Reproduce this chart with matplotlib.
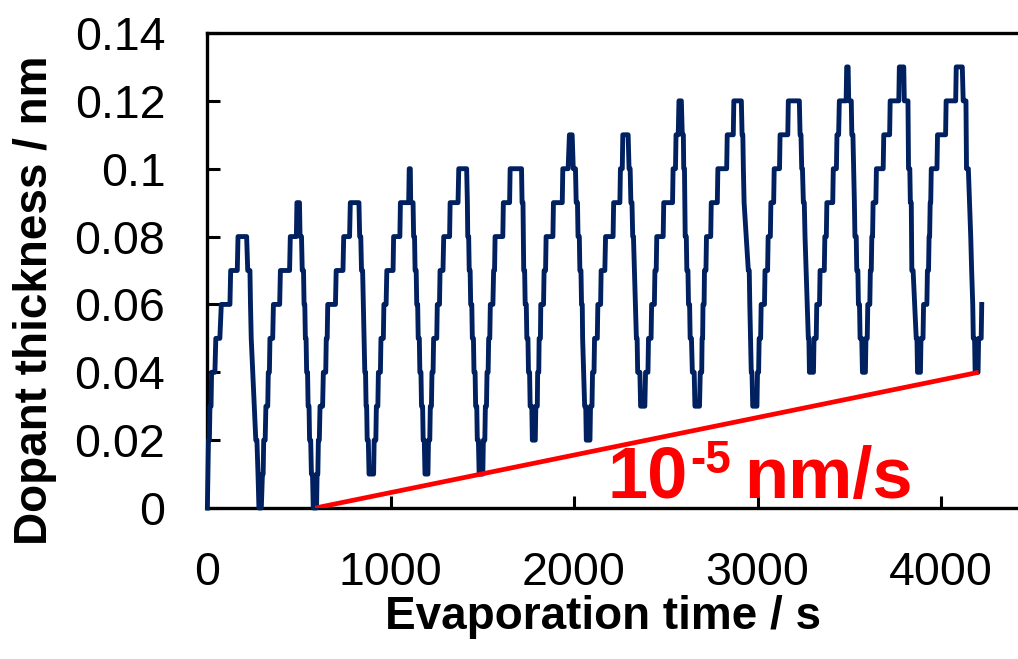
import matplotlib
matplotlib.use("Agg")
import matplotlib.pyplot as plt

plt.rcParams['font.family'] = ['Liberation Sans', 'DejaVu Sans']

# dopant thickness trace (s, nm)
time_s = [
    2, 8, 13, 16, 22, 25, 43, 48, 70, 78, 125, 129, 165, 169, 216, 222, 234, 237, 241, 266, 272, 278, 283, 296, 302, 306, 309,
    317, 321, 331, 334, 340, 343, 358, 362, 396, 400, 450, 454, 487, 490, 504, 507, 515, 519, 526, 529, 533, 536, 540, 543, 548, 551, 556, 559, 565, 569, 575, 579, 597,
    600, 604, 607, 612, 616, 630, 634, 647, 650, 655, 658, 700, 704, 741, 745, 777, 781, 828, 832, 838, 842, 848, 860, 864, 867, 870, 873, 879, 883, 908,
    911, 920, 923, 931, 934, 945, 948, 961, 964, 976, 980, 1014, 1017, 1051, 1054, 1099, 1102, 1108, 1110, 1123, 1126, 1131, 1134, 1140, 1143, 1148, 1151, 1157, 1160, 1166, 1169, 1175, 1178, 1184, 1188, 1204,
    1207, 1214, 1217, 1223, 1226, 1232, 1235, 1252, 1255, 1267, 1270, 1286, 1290, 1322, 1325, 1368, 1372, 1415, 1419, 1421, 1426, 1429, 1434, 1437, 1443, 1446, 1452, 1455, 1461, 1464, 1470, 1473, 1479, 1483, 1503,
    1506, 1514, 1517, 1523, 1526, 1532, 1535, 1541, 1544, 1558, 1562, 1567, 1570, 1612, 1615, 1649, 1652, 1714, 1717, 1722, 1726, 1731, 1734, 1740, 1743, 1749, 1752, 1758, 1761, 1770, 1773, 1789,
    1792, 1800, 1802, 1808, 1810, 1817, 1819, 1834, 1837, 1845, 1848, 1885, 1888, 1936, 1939, 1968, 1975, 1990, 1996, 2008, 2012, 2019, 2022, 2029, 2032, 2038, 2041, 2045, 2047, 2058, 2064, 2067, 2087,
    2090, 2098, 2101, 2109, 2112, 2127, 2130, 2145, 2148, 2168, 2172, 2213, 2216, 2250, 2253, 2263, 2266, 2295, 2300, 2306, 2310, 2316, 2320, 2324, 2340, 2344, 2347, 2359, 2363, 2386,
    2390, 2403, 2406, 2420, 2423, 2438, 2441, 2448, 2451, 2486, 2489, 2537, 2540, 2553, 2556, 2568, 2572, 2585, 2590, 2596, 2598, 2602, 2606, 2612, 2615, 2621, 2624, 2630, 2633, 2640, 2645, 2655, 2659, 2684,
    2688, 2696, 2698, 2701, 2703, 2709, 2711, 2719, 2722, 2745, 2748, 2781, 2784, 2832, 2835, 2868, 2871, 2912, 2916, 2920, 2923, 2927, 2950, 2955, 2958, 2962, 2966, 2970, 2974, 2997,
    3000, 3006, 3009, 3017, 3020, 3038, 3041, 3055, 3058, 3070, 3073, 3088, 3091, 3120, 3123, 3165, 3168, 3228, 3232, 3237, 3241, 3245, 3250, 3255, 3259, 3277, 3280, 3283, 3305,
    3308, 3320, 3323, 3338, 3341, 3364, 3367, 3375, 3378, 3410, 3413, 3430, 3433, 3442, 3446, 3483, 3486, 3494, 3497, 3511, 3514, 3520, 3528, 3531, 3538, 3541, 3547, 3550, 3556, 3559, 3568, 3572, 3588,
    3591, 3598, 3601, 3612, 3615, 3620, 3623, 3627, 3630, 3645, 3648, 3685, 3688, 3720, 3723, 3770, 3773, 3797, 3800, 3820, 3823, 3830, 3833, 3838, 3841, 3848, 3865, 3869, 3872, 3888,
    3891, 3902, 3905, 3923, 3926, 3932, 3935, 3938, 3941, 3944, 3947, 3978, 3981, 4025, 4028, 4080, 4083, 4116, 4121, 4136, 4139, 4149, 4162, 4167, 4173, 4176, 4183, 4186, 4202,
    4205, 4219, 4222,
]
thickness_nm = [
    0.00, 0.02, 0.02, 0.03, 0.03, 0.04, 0.04, 0.05, 0.05, 0.06, 0.06, 0.07, 0.07, 0.08, 0.08, 0.07, 0.07, 0.06, 0.05, 0.02, 0.02, 0.01, 0.00, 0.00, 0.01, 0.01, 0.02,
    0.02, 0.03, 0.03, 0.04, 0.04, 0.05, 0.05, 0.06, 0.06, 0.07, 0.07, 0.08, 0.08, 0.09, 0.09, 0.08, 0.08, 0.07, 0.07, 0.06, 0.06, 0.05, 0.05, 0.04, 0.04, 0.03, 0.03, 0.02, 0.02, 0.01, 0.01, 0.00, 0.00,
    0.01, 0.01, 0.02, 0.02, 0.03, 0.03, 0.04, 0.04, 0.05, 0.05, 0.06, 0.06, 0.07, 0.07, 0.08, 0.08, 0.09, 0.09, 0.08, 0.08, 0.07, 0.07, 0.04, 0.04, 0.03, 0.03, 0.02, 0.02, 0.01, 0.01,
    0.02, 0.02, 0.03, 0.03, 0.04, 0.04, 0.05, 0.05, 0.06, 0.06, 0.07, 0.07, 0.08, 0.08, 0.09, 0.09, 0.10, 0.10, 0.09, 0.09, 0.08, 0.08, 0.07, 0.07, 0.06, 0.06, 0.05, 0.05, 0.04, 0.04, 0.03, 0.03, 0.02, 0.02, 0.01, 0.01,
    0.02, 0.02, 0.03, 0.03, 0.04, 0.04, 0.05, 0.05, 0.06, 0.06, 0.07, 0.07, 0.08, 0.08, 0.09, 0.09, 0.10, 0.10, 0.09, 0.08, 0.08, 0.07, 0.07, 0.06, 0.06, 0.05, 0.05, 0.04, 0.04, 0.03, 0.03, 0.02, 0.02, 0.01, 0.01,
    0.02, 0.02, 0.03, 0.03, 0.04, 0.04, 0.05, 0.05, 0.06, 0.06, 0.07, 0.07, 0.08, 0.08, 0.09, 0.09, 0.10, 0.10, 0.09, 0.09, 0.07, 0.07, 0.06, 0.06, 0.05, 0.05, 0.04, 0.04, 0.03, 0.03, 0.02, 0.02,
    0.03, 0.03, 0.04, 0.04, 0.05, 0.05, 0.06, 0.06, 0.07, 0.07, 0.08, 0.08, 0.09, 0.09, 0.10, 0.10, 0.11, 0.11, 0.10, 0.10, 0.09, 0.09, 0.08, 0.08, 0.07, 0.07, 0.06, 0.06, 0.05, 0.03, 0.03, 0.02, 0.02,
    0.03, 0.03, 0.04, 0.04, 0.05, 0.05, 0.06, 0.06, 0.07, 0.07, 0.08, 0.08, 0.09, 0.09, 0.10, 0.10, 0.11, 0.11, 0.10, 0.10, 0.09, 0.09, 0.08, 0.08, 0.05, 0.05, 0.04, 0.04, 0.03, 0.03,
    0.04, 0.04, 0.05, 0.05, 0.06, 0.06, 0.07, 0.07, 0.08, 0.08, 0.09, 0.09, 0.10, 0.10, 0.11, 0.11, 0.12, 0.12, 0.11, 0.11, 0.10, 0.10, 0.08, 0.08, 0.07, 0.07, 0.06, 0.06, 0.05, 0.05, 0.04, 0.04, 0.03, 0.03,
    0.04, 0.04, 0.05, 0.05, 0.06, 0.06, 0.07, 0.07, 0.08, 0.08, 0.09, 0.09, 0.10, 0.10, 0.11, 0.11, 0.12, 0.12, 0.11, 0.11, 0.10, 0.09, 0.07, 0.07, 0.06, 0.05, 0.04, 0.04, 0.03, 0.03,
    0.04, 0.04, 0.05, 0.05, 0.06, 0.06, 0.07, 0.07, 0.08, 0.08, 0.09, 0.09, 0.10, 0.10, 0.11, 0.11, 0.12, 0.12, 0.11, 0.11, 0.10, 0.10, 0.09, 0.09, 0.08, 0.05, 0.05, 0.04, 0.04,
    0.05, 0.05, 0.06, 0.06, 0.07, 0.07, 0.08, 0.08, 0.09, 0.09, 0.10, 0.10, 0.11, 0.11, 0.12, 0.12, 0.13, 0.13, 0.12, 0.12, 0.11, 0.11, 0.09, 0.08, 0.08, 0.07, 0.07, 0.06, 0.06, 0.05, 0.05, 0.04, 0.04,
    0.05, 0.05, 0.06, 0.06, 0.07, 0.07, 0.08, 0.08, 0.09, 0.09, 0.10, 0.10, 0.11, 0.11, 0.12, 0.12, 0.13, 0.13, 0.12, 0.12, 0.10, 0.10, 0.09, 0.09, 0.07, 0.07, 0.05, 0.05, 0.04, 0.04,
    0.05, 0.05, 0.06, 0.06, 0.07, 0.07, 0.08, 0.08, 0.09, 0.09, 0.10, 0.10, 0.11, 0.11, 0.12, 0.12, 0.13, 0.13, 0.12, 0.12, 0.10, 0.10, 0.08, 0.07, 0.06, 0.05, 0.05, 0.04, 0.04,
    0.05, 0.05, 0.06,
]

# drift guide line
rate_t = [590, 4205]
rate_d = [0.0, 0.04]

x_ticks = [0, 1000, 2000, 3000, 4000]
y_ticks = [0, 0.02, 0.04, 0.06, 0.08, 0.10, 0.12, 0.14]
y_labels = ['0', '0.02', '0.04', '0.06', '0.08', '0.1', '0.12', '0.14']

W, H = 1018, 659
fig = plt.figure(figsize=(W / 100, H / 100), dpi=100)
# axes run past the right edge, like the cropped original
ax = fig.add_axes([207 / W, 151 / H, 4500 * 0.1835 / W, 475 / H])

ax.plot(time_s, thickness_nm, color='#002060', lw=3.5, solid_joinstyle='round',
        clip_on=False, zorder=3)
ax.plot(rate_t, rate_d, color='#ff0000', lw=3.4, solid_capstyle='butt', zorder=4)

ax.set_xlim(0, 4500)
ax.set_ylim(0, 0.14)
ax.set_xticks(x_ticks)
ax.set_yticks(y_ticks)
ax.set_yticklabels(y_labels)
ax.tick_params(direction='in', length=9, width=2.2, labelsize=33.5, colors='black')
ax.tick_params(axis='x', pad=31)
ax.tick_params(axis='y', pad=30)
for s in ax.spines.values():
    s.set_linewidth(2.4)
ax.spines['right'].set_visible(False)

fig.text(603 / W, 1 - 617 / H, 'Evaporation time / s', fontsize=33, fontweight='bold',
         ha='center', va='center')
fig.text(35 / W, 1 - 300 / H, 'Dopant thickness / nm', fontsize=33, fontweight='bold',
         ha='center', va='center', rotation=90)

# "10^-5 nm/s" annotation
fig.text(607 / W, 1 - 498 / H, '10', fontsize=52, fontweight='bold', color='#ff0000',
         ha='left', va='baseline')
fig.text(690 / W, 1 - 473 / H, '-5', fontsize=33, fontweight='bold', color='#ff0000',
         ha='left', va='baseline')
fig.text(744 / W, 1 - 498 / H, 'nm/s', fontsize=52, fontweight='bold', color='#ff0000',
         ha='left', va='baseline')

fig.savefig('out.png', dpi=100)
